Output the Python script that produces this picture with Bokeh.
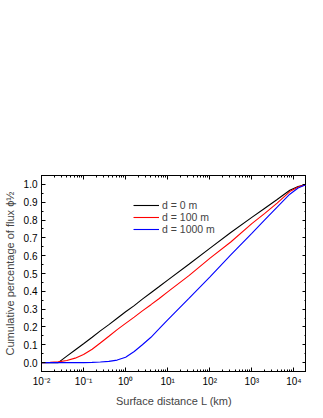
from bokeh.plotting import figure
from bokeh.models import (Range1d, LogAxis, LinearAxis, LogTicker, FixedTicker,
                          Legend, LegendItem, CustomJSTickFormatter)
from bokeh.embed import file_html
from bokeh.resources import INLINE

# Surface distance L (km)
L = [0.01, 0.016, 0.025, 0.04, 0.063, 0.1, 0.16, 0.25, 0.4, 0.63, 1.0, 1.6,
     2.5, 4.0, 6.3, 10.0, 32.0, 100.0, 316.0, 1000.0, 2000.0, 4000.0, 8000.0,
     12600.0, 20000.0]
phi_d0 = [0.0, 0.0, 0.0, 0.036, 0.071, 0.106, 0.142, 0.178, 0.213, 0.249,
          0.285, 0.320, 0.356, 0.392, 0.427, 0.463, 0.552, 0.641, 0.730,
          0.815, 0.865, 0.915, 0.967, 0.988, 1.0]
phi_d100 = [0.0, 0.001, 0.004, 0.012, 0.025, 0.045, 0.075, 0.11, 0.148,
            0.185, 0.22, 0.255, 0.29, 0.325, 0.36, 0.397, 0.488, 0.585,
            0.677, 0.78, 0.836, 0.895, 0.96, 0.985, 1.0]
phi_d1000 = [0.0, 0.0, 0.0, 0.0, 0.0, 0.0, 0.001, 0.003, 0.007, 0.014, 0.03,
             0.062, 0.10, 0.142, 0.19, 0.24, 0.36, 0.48, 0.605, 0.725, 0.80,
             0.872, 0.945, 0.98, 1.0]
series_labels = ["d = 0 m", "d = 100 m", "d = 1000 m"]
series_colors = ["black", "#ff0000", "#0000ff"]

x_ticks = [0.01, 0.1, 1, 10, 100, 1000, 10000]
x_tick_labels = ["10⁻²", "10⁻¹", "10⁰", "10¹", "10²", "10³", "10⁴"]
y_ticks = [0.0, 0.1, 0.2, 0.3, 0.4, 0.5, 0.6, 0.7, 0.8, 0.9, 1.0]
y_tick_labels = ["0.0", "0.1", "0.2", "0.3", "0.4", "0.5", "0.6", "0.7",
                 "0.8", "0.9", "1.0"]

FONT = "Liberation Sans"

p = figure(frame_width=265, frame_height=196, x_axis_type="log",
           x_range=Range1d(0.01, 19953), y_range=Range1d(-0.05, 1.05),
           output_backend="svg", toolbar_location=None,
           min_border_left=35, min_border_right=0, min_border_top=175,
           min_border_bottom=0)
p.grid.visible = False
p.outline_line_color = "black"
p.outline_line_width = 1
p.background_fill_color = "white"
p.border_fill_color = "white"

items = []
for ys, lab, col in zip([phi_d0, phi_d100, phi_d1000], series_labels,
                        series_colors):
    r = p.line(L, ys, line_color=col, line_width=1.1)
    items.append(LegendItem(label=lab, renderers=[r]))

legend = Legend(items=items, location=(92, 136))
legend.border_line_color = None
legend.background_fill_alpha = 0
legend.padding = 0
legend.margin = 0
legend.spacing = 0
legend.glyph_width = 26
legend.glyph_height = 12
legend.label_height = 12
legend.label_standoff = 3
legend.label_text_font = FONT
legend.label_text_font_size = "10.5px"
p.add_layout(legend, "center")


def style_axis(ax, show_labels):
    ax.axis_line_color = "black"
    ax.major_tick_line_color = "black"
    ax.minor_tick_line_color = "black"
    ax.major_tick_in = 4
    ax.major_tick_out = 0
    ax.minor_tick_in = 2
    ax.minor_tick_out = 0
    ax.major_label_text_font = FONT
    ax.major_label_text_color = "black"
    ax.major_label_text_font_size = "10px"
    if show_labels:
        ax.major_label_standoff = 4
    else:
        ax.formatter = CustomJSTickFormatter(code="return ''")
        ax.major_label_standoff = 0
        ax.major_label_text_font_size = "1px"


xax = p.xaxis[0]
xax.ticker = LogTicker(desired_num_ticks=7, num_minor_ticks=10)
xax.major_label_overrides = {v: s for v, s in zip(x_ticks, x_tick_labels)}
xax.axis_label = "Surface distance L (km)"
xax.axis_label_text_font = FONT
xax.axis_label_text_font_size = "11px"
xax.axis_label_text_font_style = "normal"
xax.axis_label_standoff = 5
style_axis(xax, True)

yax = p.yaxis[0]
yax.ticker = FixedTicker(ticks=y_ticks,
                         minor_ticks=[v / 100 for v in range(-5, 106, 5)])
yax.major_label_overrides = {v: s for v, s in zip(y_ticks, y_tick_labels)}
yax.axis_label = "Cumulative percentage of flux ϕ½"
yax.axis_label_text_font = FONT
yax.axis_label_text_font_size = "11px"
yax.axis_label_text_font_style = "normal"
yax.axis_label_standoff = 5
style_axis(yax, True)

top = LogAxis(ticker=LogTicker(desired_num_ticks=7, num_minor_ticks=10))
style_axis(top, False)
p.add_layout(top, "above")

right = LinearAxis(ticker=FixedTicker(ticks=y_ticks,
                   minor_ticks=[v / 100 for v in range(-5, 106, 5)]))
style_axis(right, False)
p.add_layout(right, "right")

open("out.html", "w").write(file_html(p, INLINE))
